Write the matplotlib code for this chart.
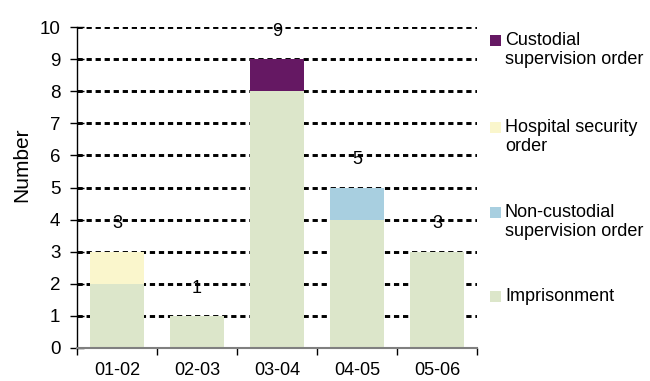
import matplotlib
matplotlib.use("Agg")
import matplotlib.pyplot as plt
from matplotlib.patches import Rectangle
import numpy as np

plt.rcParams['font.family'] = ['Liberation Sans', 'DejaVu Sans']

years = ["01-02", "02-03", "03-04", "04-05", "05-06"]
imprisonment = [2, 1, 8, 4, 3]
non_custodial = [0, 0, 0, 1, 0]
hospital_security = [1, 0, 0, 0, 0]
custodial = [0, 0, 1, 0, 0]

series = [
    ("Imprisonment", imprisonment, "#dce6ca"),
    ("Non-custodial\nsupervision order", non_custodial, "#a8cfe0"),
    ("Hospital security\norder", hospital_security, "#faf6cc"),
    ("Custodial\nsupervision order", custodial, "#651863"),
]

FS = 13
W, H = 650, 381
fig = plt.figure(figsize=(W / 100, H / 100), dpi=100)
ax = fig.add_axes([77 / W, 1 - 348 / H, 400 / W, 321 / H])

x = np.arange(len(years))
bottom = np.zeros(len(years))
for name, vals, col in series:
    v = np.array(vals, dtype=float)
    ax.bar(x, v, bottom=bottom, width=0.67, color=col, linewidth=0, zorder=2)
    bottom += v

totals = bottom
for xi, t in zip(x, totals):
    ax.annotate(f"{int(t)}", (xi, t), xytext=(0, 20), textcoords="offset points",
                ha="center", va="center", fontsize=FS, zorder=4)

ax.set_xlim(-0.5, len(years) - 0.5)
ax.set_ylim(0, 10)
ax.set_yticks(range(0, 11))
ax.set_xticks(x)
ax.set_xticklabels(years)
ax.set_xticks(np.arange(-0.5, len(years), 1.0), minor=True)
ax.tick_params(axis="x", which="major", length=0, pad=10, labelsize=FS)
ax.tick_params(axis="x", which="minor", length=5, direction="out", color="black", width=1)
ax.tick_params(axis="y", length=10, direction="inout", width=1, labelsize=13.5, pad=7)

for yv in range(1, 11):
    ax.axhline(yv, color="black", lw=2.1, linestyle=(0, (1.8, 1.3)),
               dash_capstyle="butt", zorder=1)

for s in ["top", "right"]:
    ax.spines[s].set_visible(False)
ax.spines["bottom"].set_color("#808080")
ax.spines["bottom"].set_linewidth(1.5)
ax.spines["left"].set_color("black")
ax.spines["left"].set_linewidth(1)

ax.set_ylabel("Number", fontsize=15)
ax.yaxis.set_label_coords(-0.115, 0.57)

# legend, drawn top to bottom in reverse stacking order
legend_rows = [
    ("Custodial\nsupervision order", "#651863", 33),
    ("Hospital security\norder", "#faf6cc", 120),
    ("Non-custodial\nsupervision order", "#a8cfe0", 205),
    ("Imprisonment", "#dce6ca", 289),
]
for label, col, cap_top in legend_rows:
    fig.patches.append(Rectangle((490 / W, 1 - (cap_top + 13) / H), 11 / W, 11 / H,
                                 transform=fig.transFigure, facecolor=col,
                                 edgecolor="none"))
    fig.text(505 / W, 1 - (cap_top - 1) / H, label, ha="left", va="top",
             fontsize=FS, linespacing=1.12)

fig.savefig("out.png", dpi=100)
